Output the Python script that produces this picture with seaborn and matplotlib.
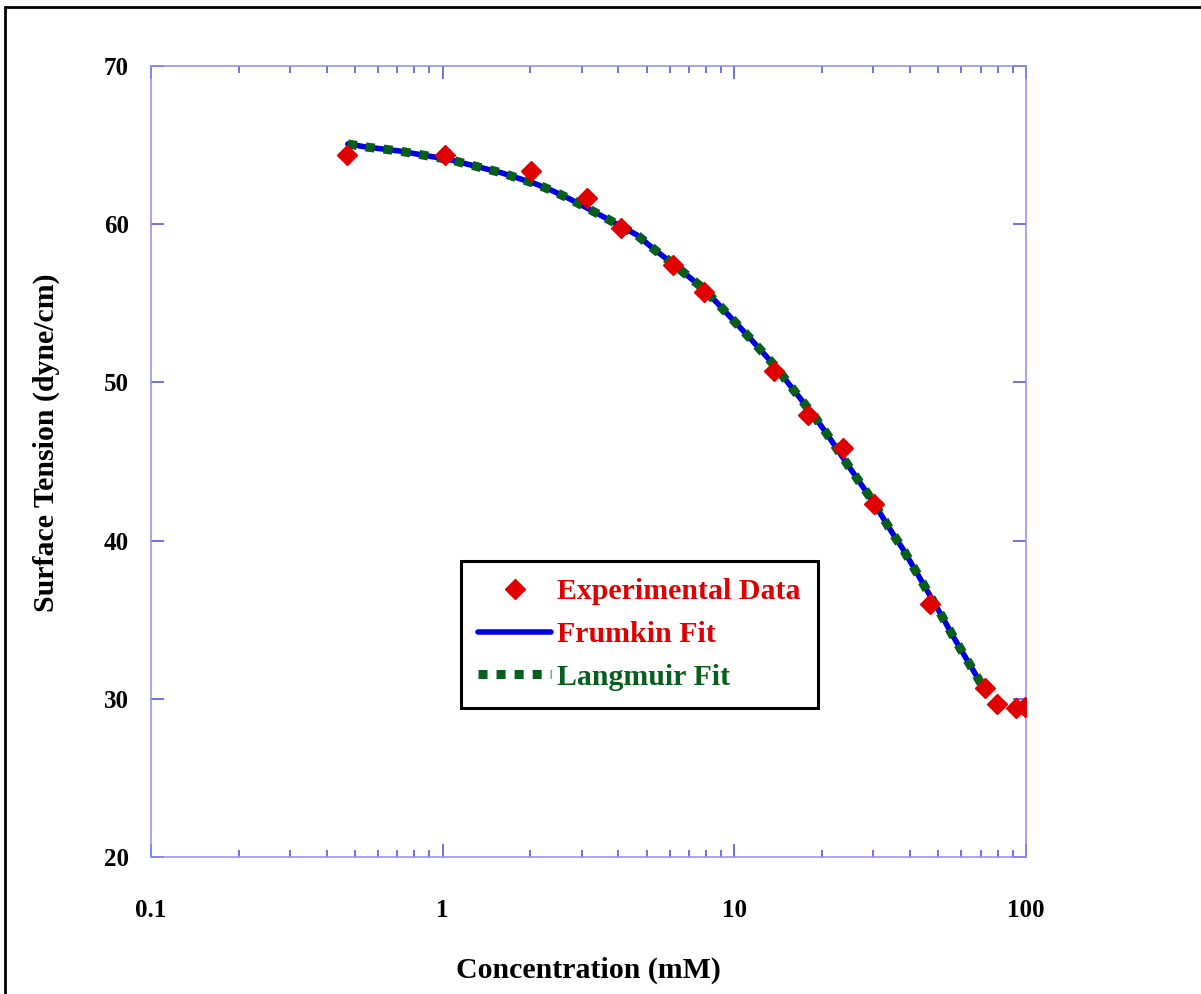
import matplotlib
matplotlib.use("Agg")
import matplotlib.pyplot as plt
import seaborn as sns
import pandas as pd
from matplotlib.lines import Line2D
from matplotlib.ticker import FixedLocator, LogLocator, NullFormatter, FuncFormatter

# experimental points (concentration mM, surface tension dyne/cm)
exp_conc = [0.47, 1.02, 2.01, 3.12, 4.08, 6.16, 7.87, 13.7, 17.9, 23.5, 30.1, 46.9, 72.3, 79.4, 92.3, 99.1]
exp_tension = [64.37, 64.37, 63.36, 61.66, 59.76, 57.42, 55.71, 50.72, 47.94, 45.85, 42.31, 36.0, 30.7, 29.67, 29.4, 29.5]

# fitted curve (Frumkin and Langmuir overlap)
fit_conc = [0.473, 0.546, 0.708, 0.934, 1.068, 1.597, 2.089, 2.388, 2.732, 3.573, 4.635,
            5.344, 6.11, 7.866, 8.995, 11.22, 13.89, 15.39, 18.89, 20.77, 24.9, 27.16,
            29.64, 34.98, 37.84, 44.67, 51.9, 56.16, 60.77, 70.6, 72.0]
frumkin_fit = [65.07, 64.88, 64.63, 64.25, 64.06, 63.24, 62.54, 62.10, 61.59, 60.45, 59.32,
               58.37, 57.55, 55.90, 54.77, 52.87, 50.97, 49.90, 47.81, 46.74, 44.59, 43.58,
               42.57, 40.42, 39.47, 37.19, 35.11, 33.97, 32.90, 30.87, 30.45]
langmuir_fit = list(frumkin_fit)

y_ticks = [20, 30, 40, 50, 60, 70]
x_ticks = [0.1, 1, 10, 100]

sns.set_theme(style="ticks")
plt.rcParams['font.family'] = ['Liberation Serif', 'DejaVu Serif']
plt.rcParams['font.weight'] = 'bold'
plt.rcParams['text.color'] = 'black'
plt.rcParams['xtick.labelcolor'] = 'black'
plt.rcParams['ytick.labelcolor'] = 'black'

red = '#e00000'
blue = '#0000dd'
green = '#065f1c'
spine_col = '#8c8cf2'
tick_col = '#4a4ae0'

fig = plt.figure(figsize=(12.01, 9.94), dpi=100)
ax = fig.add_axes([151 / 1201, 1 - 857 / 994, 875 / 1201, 791 / 994])

fit_df = pd.DataFrame({'conc': fit_conc, 'frumkin': frumkin_fit, 'langmuir': langmuir_fit})
exp_df = pd.DataFrame({'conc': exp_conc, 'tension': exp_tension})

sns.lineplot(data=fit_df, x='conc', y='frumkin', ax=ax, color=blue, lw=4,
             label='Frumkin Fit', zorder=2, estimator=None)
sns.lineplot(data=fit_df, x='conc', y='langmuir', ax=ax, color=green, lw=6.5,
             linestyle=(0, (1, 1.0)), label='Langmuir Fit', zorder=3, estimator=None)
ax.plot(exp_df['conc'], exp_df['tension'], ls='none', marker='D', ms=10.5,
        color=red, mec=red, label='Experimental Data', zorder=4)

ax.set_xscale('log')
ax.set_xlim(0.1, 100)
ax.set_ylim(20, 70)
ax.xaxis.set_major_locator(FixedLocator(x_ticks))
ax.xaxis.set_minor_locator(LogLocator(base=10, subs=range(2, 10)))
ax.xaxis.set_minor_formatter(NullFormatter())
ax.xaxis.set_major_formatter(FuncFormatter(lambda v, p: '%g' % v))
ax.yaxis.set_major_locator(FixedLocator(y_ticks))
ax.yaxis.set_major_formatter(FuncFormatter(lambda v, p: '%d' % v))

for s in ax.spines.values():
    s.set_visible(True)
    s.set_color(spine_col)
    s.set_linewidth(1.1)

ax.tick_params(axis='both', which='both', direction='in', color=tick_col, width=1.1,
               top=True, right=True, labelsize=18, labelcolor='black')
ax.tick_params(axis='both', which='major', length=9.5)
ax.tick_params(axis='x', which='minor', length=5)
ax.tick_params(axis='x', which='major', pad=30)
ax.tick_params(axis='y', which='major', pad=16)
for lab in ax.get_xticklabels() + ax.get_yticklabels():
    lab.set_fontweight('bold')

ax.set_xlabel('')
ax.set_ylabel('')
fig.text(588.5 / 1201, 1 - 970 / 994, 'Concentration (mM)', ha='center', va='center',
         fontsize=21.5, fontweight='bold', color='black')
fig.text(46 / 1201, 1 - 443 / 994, 'Surface Tension (dyne/cm)', ha='center', va='center',
         rotation=90, fontsize=21.5, fontweight='bold', color='black')

handles, labels = ax.get_legend_handles_labels()
order = [labels.index('Experimental Data'), labels.index('Frumkin Fit'), labels.index('Langmuir Fit')]
leg = ax.legend([handles[i] for i in order], [labels[i] for i in order],
                loc='upper left', bbox_to_anchor=(0.354, 0.374), frameon=True, fancybox=False,
                prop={'size': 21.5, 'weight': 'bold'}, handlelength=2.45, handletextpad=0.2,
                labelspacing=0.52, borderpad=0.58, borderaxespad=0, numpoints=1)
leg.get_frame().set_edgecolor('black')
leg.get_frame().set_linewidth(2.2)
leg.get_frame().set_alpha(1)
for txt, c in zip(leg.get_texts(), [red, red, green]):
    txt.set_color(c)

# outer border of the original graphic
fig.add_artist(Line2D([5 / 1201, 5 / 1201], [0, 1 - 7 / 994], color='black', lw=2, transform=fig.transFigure))
fig.add_artist(Line2D([5 / 1201, 1], [1 - 7 / 994, 1 - 7 / 994], color='black', lw=2, transform=fig.transFigure))

fig.savefig('out.png', dpi=100)
